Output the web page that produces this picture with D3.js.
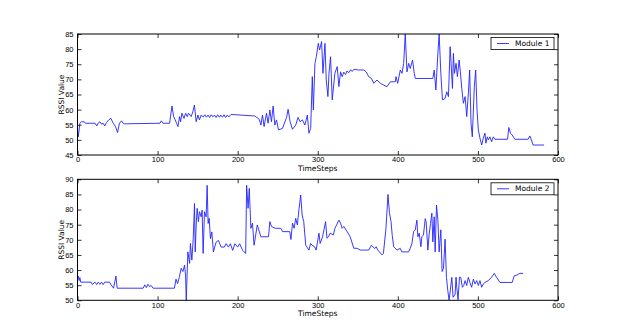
<!DOCTYPE html>
<html>
<head>
<meta charset="utf-8">
<script src="https://cdn.jsdelivr.net/npm/d3@7"></script>
<style>
  body { margin: 0; background: #fff; }
  svg { font-family: "DejaVu Sans", sans-serif; }
  .tick text { font-size: 7.5px; fill: #000; }
  .domain { display: none; }
</style>
</head>
<body>
<svg id="chart" width="620" height="334"></svg>
<script>
/* global d3 */

// [timestep, rssi] vertices
const module1 = [
  [0, 54], [1, 51], [3, 55.5], [5, 56], [8.5, 56], [10, 55.5], [22, 55.5], [24, 54.6], [26, 55.6], [28, 56],
  [30, 55.2], [32, 55.5], [34, 54.6], [36, 55.7], [39, 56.6], [41.7, 57.1], [44.6, 55.5], [47.5, 54.4], [50, 52.4], [52.4, 55.5],
  [55, 56.3], [57, 55.5], [59, 55.3], [103, 55.5], [104.7, 56.3], [106.7, 55.5], [115, 55.5], [118, 61.2], [120, 57.7], [122, 56.6],
  [123.7, 55.5], [125.4, 54.4], [127.5, 57.7], [128.7, 56], [130.4, 58.8], [133, 57.1], [135, 58.8], [137, 57.7], [138.7, 58.8], [142, 57.7],
  [144, 59.3], [146, 61.5], [148.2, 56], [150.3, 58.2], [152.3, 56.6], [154.4, 58.2], [157, 57.6], [159, 58.3], [161, 57.5], [163, 58.2],
  [165, 57.4], [167, 58.3], [169, 57.6], [171, 58.2], [173, 57.4], [175, 58.3], [177, 57.5], [179, 58.2], [181, 57.5], [183, 58.3],
  [185, 57.4], [187, 58.2], [189, 57.6], [191.7, 58.4], [221, 57.9], [223, 57.6], [227, 56.8], [229, 54.9], [231, 58.2], [233, 54.4],
  [236, 58.8], [238, 55.5], [240.2, 59.9], [242.2, 56], [244.3, 61.2], [246.4, 54.9], [248.5, 56.6], [251, 53.3], [256, 53.8], [261, 57.4],
  [263, 60.1], [265.5, 56], [268.4, 53.5], [272.5, 54.9], [275.4, 57.4], [278, 56], [280.8, 56.6], [284, 54.9], [287, 58.2], [289, 52.2],
  [291.2, 53.8], [293.2, 70.9], [294.5, 59.9], [296.5, 75.3], [298.2, 77.5], [300.7, 81.9], [302.3, 79.7], [304.8, 82.5], [306.5, 72], [309, 81.9],
  [310.6, 69.8], [312.7, 64.3], [314, 72], [316, 77.5], [318.1, 63.2], [321.4, 72], [324.3, 74.2], [326.4, 67.6], [328.5, 72.5], [330.5, 70.9],
  [332.5, 72.4], [334.7, 71.6], [336.5, 72.8], [338.8, 72.2], [341, 73.2], [343, 72.6], [345, 73.3], [351.3, 73.1], [357.5, 73.1], [360.4, 72.5],
  [363.7, 70.9], [367, 70.3], [370, 68.7], [374, 69.8], [378.2, 68.7], [382.3, 68.1], [386.5, 67.6], [390.7, 69.2], [396.9, 69.2], [397.7, 70.9],
  [399.8, 68.7], [403.1, 73.1], [405.2, 72], [407.3, 75.3], [409.3, 85], [411.4, 72.5], [413.5, 75.3], [415.5, 73.6], [418.4, 76.4], [420.5, 72],
  [421.8, 70.3], [443.7, 70.3], [445.4, 73.1], [447.5, 66.5], [449.5, 76.4], [451.6, 85], [453.7, 72], [455.7, 63.2], [459, 63.7], [461.1, 65.9],
  [463.2, 64.3], [465.3, 80.8], [466.5, 75.3], [468.2, 67], [469.4, 78.6], [470.7, 72], [472.7, 75.3], [474.4, 70.9], [476.5, 76.4], [478.1, 72.5],
  [479.8, 67], [481.9, 62.1], [484, 64.3], [486, 57.7], [488.1, 65.4], [489.7, 73.1], [491.4, 55.5], [493, 51], [495.5, 67.6], [497.2, 73.1],
  [498.9, 59.9], [500.5, 53.3], [502.6, 50.5], [504.7, 48.3], [506.7, 50.5], [508.8, 52.2], [510, 48.9], [511.7, 51], [513, 50], [515, 51],
  [517.1, 49.4], [519.2, 51], [521.2, 50.2], [537, 50.2], [538.6, 54.1], [540.7, 52.2], [542.8, 51.6], [546.1, 50.2], [562.7, 50.2], [564.8, 51.3],
  [566.8, 50], [568.9, 48.3], [582.6, 48.3]
];

const module2 = [
  [0, 57], [1, 58], [2, 56.5], [3, 57.5], [4, 56], [17, 56], [18.5, 55.2], [21.8, 56], [24, 55.2], [26, 56],
  [28, 55.3], [30, 56], [32, 55.2], [34, 56], [40, 56], [42, 55.1], [45, 54], [48, 58], [49.5, 54], [82, 54],
  [84, 55.1], [86, 54.2], [88, 55.3], [90, 54.5], [92, 54.9], [94.3, 54], [121, 54], [123, 57], [125, 55.5], [127, 57.5],
  [129.5, 60.6], [131.6, 59.5], [133.7, 61.6], [135, 58], [135.8, 50], [137.8, 66], [140, 62.2], [141, 68.8], [142.8, 63.3], [144.5, 70.4],
  [146.1, 82], [147, 66], [148.2, 74.9], [149.4, 80.4], [151, 76], [152.3, 79.3], [154.4, 77.6], [155.6, 79.8], [156.9, 65.5], [158.6, 79.3],
  [160.6, 77.6], [161.9, 88], [163.1, 75.4], [164.4, 77.1], [166, 70.4], [167.7, 72.6], [169.7, 66], [173, 69.2], [176, 69.8], [179.3, 67.6],
  [183.4, 67.6], [185.5, 68.7], [188.4, 67.6], [190.9, 68.7], [193.8, 66.5], [196.5, 68.7], [200, 67.6], [202.5, 68.7], [206.2, 66.5], [208, 66],
  [210, 65.5], [211.2, 88], [213, 80.4], [214.5, 87], [216.5, 73.8], [218.5, 75.5], [220.5, 68.2], [224.5, 74.9], [229, 71], [238.5, 71],
  [240.2, 76], [242.2, 74.4], [247, 73.8], [253.9, 73.8], [256, 72.7], [265, 72.7], [266.5, 70.1], [268.5, 75.5], [270.5, 73.8], [272.5, 77.1],
  [274.5, 74.9], [276.7, 80.4], [278.7, 84.8], [280.5, 78.2], [282.5, 76], [285, 68.2], [289, 66.6], [291, 68.8], [293, 68.2], [296, 67.7],
  [298, 66.6], [301.5, 72.2], [303, 68.8], [306, 71], [309.8, 76], [311.5, 70.5], [313.5, 71], [315.5, 72.2], [319.5, 71.6], [321.5, 73.8],
  [323.5, 74.9], [326.4, 76.5], [328.5, 75.5], [330.5, 73.8], [332.5, 74.4], [336.7, 72.7], [340.5, 71], [345, 67.2], [349, 67.2], [353, 66.6],
  [357, 66.6], [363.7, 66.6], [367, 68.2], [371, 67.1], [373, 67.7], [375, 66.6], [380.3, 65], [382, 65.5], [385.2, 73.8], [387.7, 85],
  [389.5, 79], [391.5, 76], [393, 71.5], [394.8, 67.7], [399, 66.6], [403, 67.2], [405, 66], [409, 66], [413.5, 66], [415.5, 67.2],
  [417.6, 68.8], [419.7, 72.7], [421.8, 73.3], [423.8, 76.5], [425, 71], [426.7, 72.2], [428.8, 67.7], [430, 71], [432, 71.6], [434.2, 77],
  [435.4, 75.9], [437.5, 66.6], [439, 71.6], [440.8, 75.4], [442.5, 78.8], [443.7, 69.3], [445.4, 77.6], [446.6, 66], [448.3, 81.5], [450, 76.5],
  [451.6, 66], [453.7, 73.3], [455.3, 59.5], [457, 60.6], [459, 70.2], [460.7, 57.6], [462.4, 53.2], [464, 50], [465.7, 53.7], [467.4, 57.6],
  [469, 51], [471.5, 52], [472.7, 57.6], [473.6, 54.3], [475.2, 50.2], [477, 57.6], [478.5, 57.6], [480.6, 54.3], [482.3, 54.9], [484, 56.5],
  [486, 54.9], [488, 57.6], [490, 55.9], [492.2, 54.3], [494.3, 57], [496.4, 55.4], [498.5, 56.5], [500.5, 54.9], [502.6, 56.5], [504.7, 54.3],
  [506.7, 55.4], [508.8, 55.9], [513, 56.5], [517, 57.6], [520.4, 58.9], [523.3, 57.6], [527.5, 55.9], [537.8, 55.9], [542.8, 55.9], [545.3, 58.1],
  [548.2, 58.3], [552.3, 58.9], [556.5, 58.9]
];

const xTicks = [0, 100, 200, 300, 400, 500, 600];
const yTicks1 = [45, 50, 55, 60, 65, 70, 75, 80, 85];
const yTicks2 = [50, 55, 60, 65, 70, 75, 80, 85, 90];

const panels = [
  { data: module1, domain: [45, 85], ticks: yTicks1, top: 34, bottom: 155, name: 'Module 1' },
  { data: module2, domain: [50, 90], ticks: yTicks2, top: 179.3, bottom: 300.3, name: 'Module 2' }
];

const svg = d3.select('#chart');
const left = 77.5, right = 558;
const tickLen = 4;

panels.forEach((p, i) => {
  const x = d3.scaleLinear().domain([0, 600]).range([left, right]);
  const y = d3.scaleLinear().domain(p.domain).range([p.bottom, p.top]);
  const g = svg.append('g');

  g.append('clipPath').attr('id', 'clip' + i)
    .append('rect')
    .attr('x', left).attr('y', p.top)
    .attr('width', right - left).attr('height', p.bottom - p.top);

  // the series
  const line = d3.line().x(d => x(d[0])).y(d => y(d[1]));
  g.append('path')
    .datum(p.data)
    .attr('clip-path', `url(#clip${i})`)
    .attr('fill', 'none')
    .attr('stroke', '#2323ff')
    .attr('stroke-width', 0.9)
    .attr('stroke-linejoin', 'round')
    .attr('d', line);

  // axes, matplotlib style ticks pointing inward on all four sides
  g.append('g').attr('transform', `translate(0,${p.bottom})`)
    .call(d3.axisBottom(x).tickValues(xTicks).tickSize(-tickLen).tickPadding(2).tickFormat(d3.format('d')));
  g.append('g').attr('transform', `translate(0,${p.top})`)
    .call(d3.axisTop(x).tickValues(xTicks).tickSize(-tickLen).tickFormat(''));
  g.append('g').attr('transform', `translate(${left},0)`)
    .call(d3.axisLeft(y).tickValues(p.ticks).tickSize(-tickLen).tickPadding(4).tickFormat(d3.format('d')));
  g.append('g').attr('transform', `translate(${right},0)`)
    .call(d3.axisRight(y).tickValues(p.ticks).tickSize(-tickLen).tickFormat(''));
  g.selectAll('.tick line').attr('stroke', '#000').attr('stroke-width', 0.8);

  g.append('rect')
    .attr('x', left).attr('y', p.top)
    .attr('width', right - left).attr('height', p.bottom - p.top)
    .attr('fill', 'none').attr('stroke', '#000').attr('stroke-width', 1);

  g.append('text')
    .attr('x', (left + right) / 2).attr('y', p.bottom + 15.5)
    .attr('text-anchor', 'middle').attr('font-size', 7.5)
    .text('TimeSteps');

  g.append('text')
    .attr('transform', `translate(64,${(p.top + p.bottom) / 2}) rotate(-90)`)
    .attr('text-anchor', 'middle').attr('font-size', 7.5)
    .text('RSSI Value');

  // legend
  const lg = g.append('g').attr('transform', `translate(491,${p.top + 3.5})`);
  lg.append('rect').attr('width', 63).attr('height', 12)
    .attr('fill', '#fff').attr('stroke', '#000').attr('stroke-width', 0.8);
  lg.append('line').attr('x1', 6).attr('x2', 18).attr('y1', 6).attr('y2', 6)
    .attr('stroke', '#2323ff').attr('stroke-width', 0.9);
  lg.append('text').attr('x', 24).attr('y', 6).attr('dy', '0.35em')
    .attr('font-size', 7.5).text(p.name);
});
</script>
</body>
</html>
